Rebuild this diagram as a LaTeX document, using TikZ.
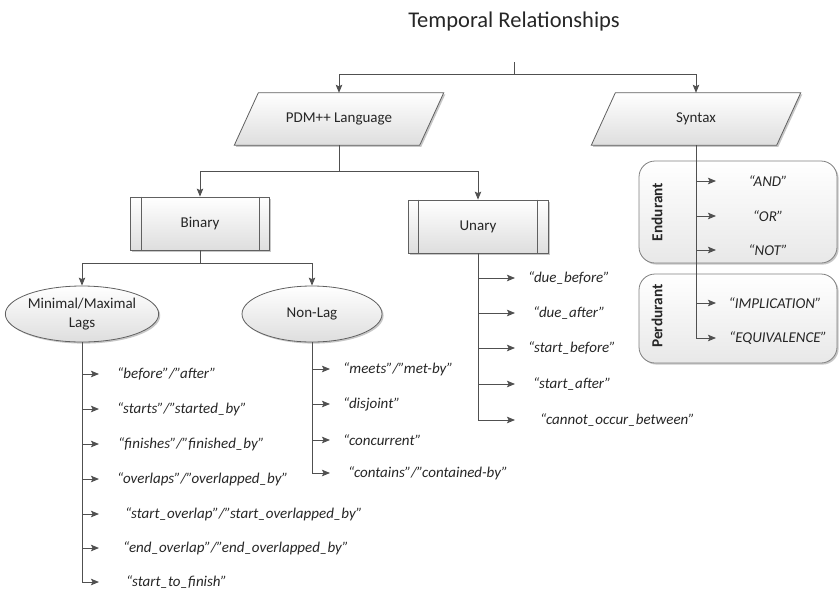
\documentclass[tikz,border=0pt]{standalone}
\usepackage{fontspec}
\setmainfont{Carlito}
\usetikzlibrary{arrows.meta,shadows,shapes.geometric,calc,backgrounds}

\definecolor{linec}{HTML}{505050}
\definecolor{edgec}{HTML}{606060}
\definecolor{txtc}{HTML}{262626}

\begin{document}
\begin{tikzpicture}[x=1pt,y=-1pt,
  line/.style={draw=linec,line width=0.9pt},
  arr/.style={line,-{Stealth[length=8pt,width=6.5pt,inset=1.5pt]}},
  shadowed/.style={drop shadow={shadow xshift=1.6pt,shadow yshift=-1.6pt,opacity=0.22,fill=black}},
  boxfill/.style={top color=white,bottom color=black!13},
  lbl/.style={font=\fontsize{15}{19}\selectfont,text=txtc},
  item/.style={font=\fontsize{15}{17}\selectfont\itshape,text=txtc,anchor=west,inner sep=0pt},
  citem/.style={font=\fontsize{15}{17}\selectfont\itshape,text=txtc,inner sep=0pt},
  paraspace/.style={lbl,minimum width=185pt,minimum height=52pt,inner sep=0pt},
  procbox/.style={lbl,draw=edgec,line width=0.8pt,boxfill,shadowed,minimum width=140pt,minimum height=53pt,inner sep=0pt},
  oval/.style={lbl,ellipse,draw=edgec,line width=0.8pt,boxfill,shadowed,minimum width=140pt,minimum height=56pt,inner sep=0pt,align=center},
  group/.style={draw=edgec!80,line width=0.8pt,rounded corners=16pt,top color=white,bottom color=black!9,shadowed,inner sep=0pt},
  grouplbl/.style={font=\fontsize{15.3}{17}\selectfont\bfseries,text=txtc,rotate=90,inner sep=0pt}
]
\useasboundingbox (0,0) rectangle (840,590);

% heading
\node[font=\fontsize{22.5}{26}\selectfont,text=txtc,anchor=base] (title) at (514,27) {Temporal Relationships};
\coordinate (root) at (514,62);

% top level: parallelogram labels, outlines drawn behind
\node[paraspace] (pdm) at (339,119) {PDM++ Language};
\node[paraspace] (syn) at (696,119) {Syntax};
\begin{scope}[on background layer]
  \foreach \n in {pdm,syn}{
    \path[line,line width=0.8pt,draw=edgec,boxfill,shadowed]
      ($(\n.north west)+(12,0)$) -- ($(\n.north east)+(12,0)$) --
      ($(\n.south east)+(-12,0)$) -- ($(\n.south west)+(-12,0)$) -- cycle;
  }
\end{scope}
\draw[line] (root) -- ++(0,12) coordinate (rootbar);
\draw[arr] (rootbar) -| (pdm.north);
\draw[arr] (rootbar) -| (syn.north);

% binary / unary processes
\node[procbox,minimum width=139pt] (bin) at (200,223.5) {Binary};
\node[procbox] (una) at (478,226.5) {Unary};
\foreach \n in {bin,una}{
  \draw[line,line width=0.8pt,draw=edgec] ([xshift=11pt]\n.north west) -- ([xshift=11pt]\n.south west);
  \draw[line,line width=0.8pt,draw=edgec] ([xshift=-11pt]\n.north east) -- ([xshift=-11pt]\n.south east);
}
\coordinate (pdmbar) at (339,171);
\draw[line] (pdm.south) -- (pdmbar);
\draw[arr] (pdmbar) -| (bin.north);
\draw[arr] (pdmbar) -| (una.north);

% lag / non-lag
\node[oval] (lag) at (82,314) {Minimal/Maximal\\Lags};
\node[oval] (nonlag) at (312,314) {Non-Lag};
\coordinate (binbar) at (200,263);
\draw[line] (bin.south) -- (binbar);
\draw[arr] (binbar) -| (lag.north);
\draw[arr] (binbar) -| (nonlag.north);

% syntax groups
\node[group,minimum width=198pt,minimum height=102pt] (endu) at (738,212) {};
\node[group,minimum width=198pt,minimum height=89pt] (perd) at (738,318.5) {};
\node[grouplbl] (endulbl) at (657,212) {Endurant};
\node[grouplbl] (perdlbl) at (657,316) {Perdurant};

% lag relations
\foreach \y/\dx/\t [count=\i] in {
  374/117/{“before”/”after”},
  409/117/{“starts”/”started\_by”},
  444/118/{“finishes”/”finished\_by”},
  479/117/{“overlaps”/”overlapped\_by”},
  514/125/{“start\_overlap”/”start\_overlapped\_by”},
  548/123/{“end\_overlap”/”end\_overlapped\_by”},
  582/126/{“start\_to\_finish”}}{
  \node[item] (lr\i) at (\dx,\y) {\t};
  \coordinate (lt\i) at (99,\y);
}
\draw[line] (lag.south) -- (lag.south |- lt7);
\foreach \i in {1,...,7}{ \draw[arr] (lag.south |- lt\i) -- (lt\i); }

% non-lag relations
\foreach \y/\dx/\t [count=\i] in {
  369/343/{“meets”/”met-by”},
  404/343/{“disjoint”},
  440/343/{“concurrent”},
  473/348/{“contains”/”contained-by”}}{
  \node[item] (nr\i) at (\dx,\y) {\t};
  \coordinate (nt\i) at (330,\y);
}
\draw[line] (nonlag.south) -- (nonlag.south |- nt4);
\foreach \i in {1,...,4}{ \draw[arr] (nonlag.south |- nt\i) -- (nt\i); }

% unary relations
\foreach \y/\dx/\t [count=\i] in {
  278/528/{“due\_before”},
  313/533/{“due\_after”},
  348/528/{“start\_before”},
  384/533/{“start\_after”},
  420/540/{“cannot\_occur\_between”}}{
  \node[item] (ur\i) at (\dx,\y) {\t};
  \coordinate (ut\i) at (515,\y);
}
\draw[line] (una.south) -- (una.south |- ut5);
\foreach \i in {1,...,5}{ \draw[arr] (una.south |- ut\i) -- (ut\i); }

% syntax operators
\foreach \y/\cx/\t [count=\i] in {
  181/768/{“AND”},
  216/768/{“OR”},
  250/768/{“NOT”},
  303/775/{“IMPLICATION”},
  338/778/{“EQUIVALENCE”}}{
  \node[citem] (sr\i) at (\cx,\y) {\t};
  \coordinate (st\i) at (716,\y);
}
\draw[line] (syn.south) -- (syn.south |- st5);
\foreach \i in {1,...,5}{ \draw[arr] (syn.south |- st\i) -- (st\i); }
\end{tikzpicture}
\end{document}
